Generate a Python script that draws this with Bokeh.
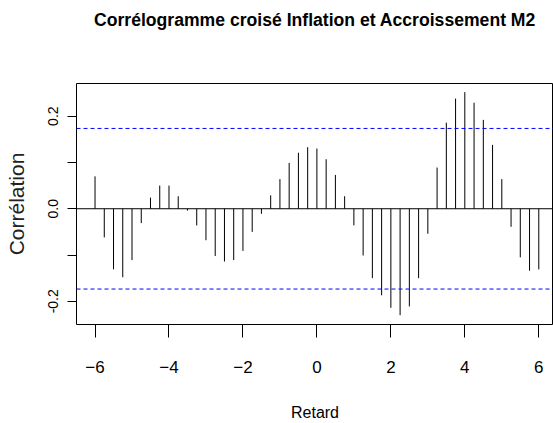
from bokeh.plotting import figure
from bokeh.models import ColumnDataSource, Range1d, FixedTicker, Span, Title
from bokeh.embed import file_html
from bokeh.resources import INLINE

# Data (cross-correlogram, quarterly lags)
lags = [-6.0, -5.75, -5.5, -5.25, -5.0, -4.75, -4.5, -4.25, -4.0, -3.75, -3.5, -3.25,
        -3.0, -2.75, -2.5, -2.25, -2.0, -1.75, -1.5, -1.25, -1.0, -0.75, -0.5, -0.25,
        0.0, 0.25, 0.5, 0.75, 1.0, 1.25, 1.5, 1.75, 2.0, 2.25, 2.5, 2.75,
        3.0, 3.25, 3.5, 3.75, 4.0, 4.25, 4.5, 4.75, 5.0, 5.25, 5.5, 5.75, 6.0]
ccf = [0.070, -0.062, -0.131, -0.148, -0.111, -0.031, 0.024, 0.050, 0.050, 0.027, -0.004, -0.036,
       -0.068, -0.102, -0.114, -0.111, -0.091, -0.050, -0.011, 0.029, 0.064, 0.099, 0.121, 0.133,
       0.130, 0.107, 0.073, 0.027, -0.036, -0.101, -0.150, -0.187, -0.214, -0.230, -0.211, -0.150,
       -0.054, 0.089, 0.186, 0.238, 0.252, 0.229, 0.192, 0.138, 0.064, -0.039, -0.105, -0.134, -0.131]
conf_limit = 0.1735
x_ticks = [-6, -4, -2, 0, 2, 4, 6]
y_ticks = [-0.2, -0.1, 0.0, 0.1, 0.2]
y_tick_labels = {-0.2: "-0.2", -0.1: "", 0.0: "0.0", 0.1: "", 0.2: "0.2"}

title = "Corrélogramme croisé Inflation et Accroissement M2"
x_label = "Retard"
y_label = "Corrélation"

source = ColumnDataSource(data=dict(lag=lags, ccf=ccf))

FONT = "Liberation Sans"

p = figure(width=553, height=423, output_backend="svg", toolbar_location=None,
           x_range=Range1d(-6.501, 6.398), y_range=Range1d(-0.2501, 0.2706),
           min_border_left=76, min_border_right=0, min_border_top=83, min_border_bottom=97)

# spacer between the frame and the title (closest to the frame), then the real title
p.add_layout(Title(text=" ", text_font_size="1px", standoff=46), "above")
p.add_layout(Title(text=title, text_font=FONT, text_font_size="17.6px", text_font_style="bold",
                   align="center", text_color="black", standoff=10), "above")

p.xgrid.visible = False
p.ygrid.visible = False
p.background_fill_color = "white"
p.border_fill_color = "white"
p.outline_line_color = "black"
p.outline_line_width = 1

# stems
p.segment(x0="lag", y0=0, x1="lag", y1="ccf", source=source, line_color="black", line_width=1)

# zero line and confidence limits
p.add_layout(Span(location=0, dimension="width", line_color="black", line_width=1))
p.add_layout(Span(location=conf_limit, dimension="width", line_color="#0000ff", line_width=1, line_dash="4 3"))
p.add_layout(Span(location=-conf_limit, dimension="width", line_color="#0000ff", line_width=1, line_dash="4 3"))

xa = p.xaxis[0]
xa.ticker = FixedTicker(ticks=x_ticks)
xa.major_tick_out = 13
xa.major_tick_in = 0
xa.minor_tick_line_color = None
xa.axis_line_color = None
xa.major_tick_line_color = "black"
xa.major_label_text_font = FONT
xa.major_label_text_font_size = "17px"
xa.major_label_text_color = "black"
xa.major_label_standoff = 23
xa.axis_label = x_label
xa.axis_label_text_font = FONT
xa.axis_label_text_font_size = "16px"
xa.axis_label_text_font_style = "normal"
xa.axis_label_text_color = "black"
xa.axis_label_standoff = 28

ya = p.yaxis[0]
ya.ticker = FixedTicker(ticks=y_ticks)
ya.major_label_overrides = y_tick_labels
ya.major_label_orientation = "vertical"
ya.major_tick_out = 9
ya.major_tick_in = 0
ya.minor_tick_line_color = None
ya.axis_line_color = None
ya.major_tick_line_color = "black"
ya.major_label_text_font = FONT
ya.major_label_text_font_size = "14px"
ya.major_label_text_color = "black"
ya.major_label_standoff = 9
ya.axis_label = y_label
ya.axis_label_text_font = FONT
ya.axis_label_text_font_size = "21px"
ya.axis_label_text_font_style = "normal"
ya.axis_label_text_color = "#222222"
ya.axis_label_standoff = 18

open("out.html", "w").write(file_html(p, INLINE))
